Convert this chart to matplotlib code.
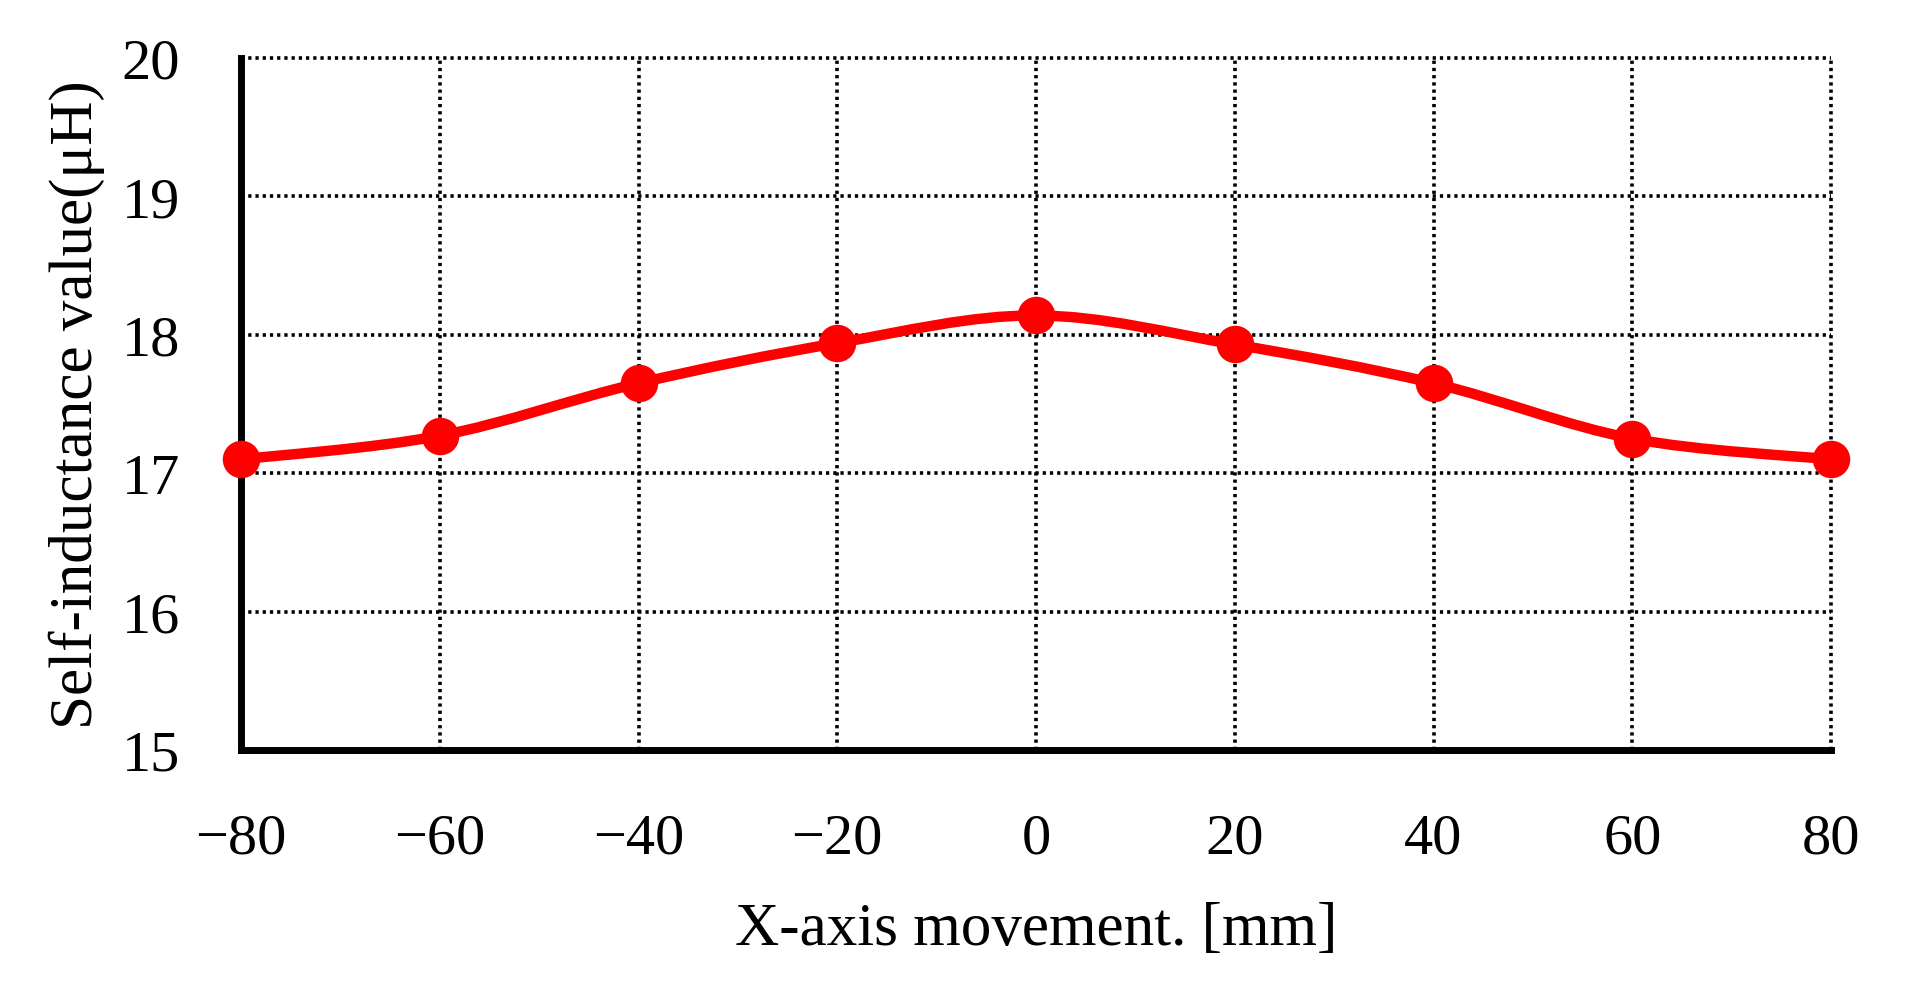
import matplotlib
matplotlib.use("Agg")
import matplotlib.pyplot as plt
from matplotlib.path import Path
from matplotlib.patches import PathPatch
import numpy as np

# dados
x_mm = [-80, -60, -40, -20, 0, 20, 40, 60, 80]
L_uH = [17.10, 17.27, 17.65, 17.94, 18.14, 17.93, 17.65, 17.25, 17.10]
xticks = [-80, -60, -40, -20, 0, 20, 40, 60, 80]
yticks = [15, 16, 17, 18, 19, 20]

plt.rcParams['font.family'] = ['Liberation Serif', 'DejaVu Serif']

fig = plt.figure(figsize=(19.12, 9.87), dpi=100)
ax = fig.add_axes([241/1912, 1-751/987, (1831-241)/1912, (751-59)/987])

# linha suavizada (estilo Excel): bezier cubica passando pelos pontos
pts = np.column_stack([x_mm, L_uH])
n = len(pts)
verts = [tuple(pts[0])]
codes = [Path.MOVETO]
for i in range(n-1):
    p0 = pts[max(i-1, 0)]
    p1 = pts[i]
    p2 = pts[i+1]
    p3 = pts[min(i+2, n-1)]
    c1 = p1 + (p2-p0)/6
    c2 = p2 - (p3-p1)/6
    verts += [tuple(c1), tuple(c2), tuple(p2)]
    codes += [Path.CURVE4]*3
curva = PathPatch(Path(verts, codes), fill=False, edgecolor='#ff0000',
                  linewidth=7.5, capstyle='round', joinstyle='round', zorder=4)
ax.add_patch(curva)

ax.plot(x_mm, L_uH, linestyle='none', marker='o', markersize=27,
        color='#ff0000', markeredgewidth=0, zorder=5, clip_on=False)

ax.set_xlim(-80, 80)
ax.set_ylim(15, 20)
ax.set_xticks(xticks)
ax.set_yticks(yticks)

ax.grid(True, color='black', linestyle=(0, (0.9, 1.1)), linewidth=2.6)
for gl in ax.get_xgridlines() + ax.get_ygridlines():
    gl.set_clip_on(False)
ax.set_axisbelow(True)

ax.spines['top'].set_visible(False)
ax.spines['right'].set_visible(False)
ax.spines['left'].set_linewidth(5)
ax.spines['bottom'].set_linewidth(5)
ax.spines['left'].set_zorder(3)
ax.spines['bottom'].set_zorder(3)
ax.spines['left'].set_capstyle('projecting')
ax.spines['bottom'].set_capstyle('projecting')

ax.tick_params(axis='both', length=0, labelsize=42)
ax.tick_params(axis='x', pad=45)
ax.tick_params(axis='y', pad=44)

fig.text(1036/1912, 1-930/987, 'X-axis movement. [mm]', fontsize=44,
         ha='center', va='center')
fig.text(77/1912, 1-405/987, 'Self-inductance value(μH)', fontsize=44,
         ha='center', va='center', rotation=90)

fig.savefig('out.png', dpi=100, facecolor='white')
